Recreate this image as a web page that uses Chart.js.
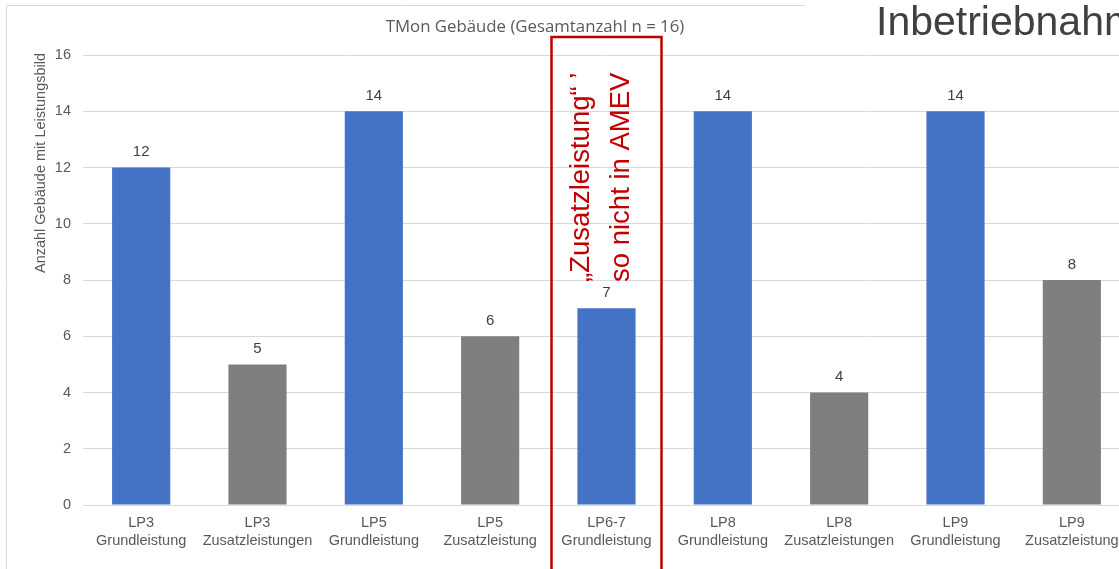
<!DOCTYPE html>
<html lang="de">
<head>
<meta charset="utf-8">
<title>TMon Gebäude</title>
<script src="https://cdn.jsdelivr.net/npm/chart.js@4.4.1/dist/chart.umd.min.js"></script>
<style>
  html, body { margin: 0; padding: 0; background: #fff; overflow: hidden; }
  #wrap { position: relative; width: 1130px; height: 569px; }
</style>
</head>
<body>
<div id="wrap"><canvas id="chart"></canvas></div>
<script>
// Leistungsphasen und Leistungsart je Balken
const phases = ['LP3', 'LP3', 'LP5', 'LP5', 'LP6-7', 'LP8', 'LP8', 'LP9', 'LP9'];
const services = ['Grundleistung', 'Zusatzleistungen', 'Grundleistung', 'Zusatzleistung', 'Grundleistung',
  'Grundleistung', 'Zusatzleistungen', 'Grundleistung', 'Zusatzleistung'];
// Anzahl Gebäude je Leistungsbild
const counts = [12, 5, 14, 6, 7, 14, 4, 14, 8];
const yTicks = [0, 2, 4, 6, 8, 10, 12, 14, 16];

const chartTitle = 'TMon Gebäude (Gesamtanzahl n = 16)';
const yTitle = 'Anzahl Gebäude mit Leistungsbild';
const slideTitle = 'Inbetriebnahme';
const noteLines = ['„Zusatzleistung“ ’', 'so nicht in AMEV'];
const highlighted = 'LP6-7';

const BLUE = '#4472C4';
const GREY = '#7F7F7F';
const TEXT = '#595959';
const GRID = '#D9D9D9';
const RED = '#C00000';
const SANS = '"Liberation Sans", Arial, sans-serif';

const labels = phases.map((p, i) => [p, services[i]]);
const colors = services.map(s => s.startsWith('Grund') ? BLUE : GREY);

// Werte über den Balken, Rahmen, Titel und rote Markierung
const overlay = {
  id: 'overlay',
  afterDatasetsDraw(chart) {
    const ctx = chart.ctx;
    const meta = chart.getDatasetMeta(0);
    ctx.save();
    ctx.font = '15px ' + SANS;
    ctx.fillStyle = '#404040';
    ctx.textAlign = 'center';
    ctx.textBaseline = 'middle';
    meta.data.forEach((bar, i) => {
      ctx.fillText(String(counts[i]), bar.x, bar.y - 15.5);
    });
    ctx.restore();
  },
  afterDraw(chart) {
    const ctx = chart.ctx;
    const x = chart.scales.x;
    ctx.save();

    // Diagrammrahmen (links und oben)
    ctx.strokeStyle = GRID;
    ctx.lineWidth = 1;
    ctx.beginPath();
    ctx.moveTo(6.5, 600);
    ctx.lineTo(6.5, 5.5);
    ctx.lineTo(805, 5.5);
    ctx.stroke();

    // Diagrammtitel
    ctx.font = '16.8px "Open Sans", sans-serif';
    ctx.fillStyle = TEXT;
    ctx.textAlign = 'center';
    ctx.textBaseline = 'alphabetic';
    ctx.fillText(chartTitle, 535, 32);

    // Achsentitel y
    ctx.save();
    ctx.translate(45, 163);
    ctx.rotate(-Math.PI / 2);
    ctx.font = '14.5px ' + SANS;
    ctx.fillStyle = TEXT;
    ctx.textAlign = 'center';
    ctx.fillText(yTitle, 0, 0);
    ctx.restore();

    // Folientitel
    ctx.font = '41px ' + SANS;
    ctx.fillStyle = '#404040';
    ctx.textAlign = 'left';
    ctx.fillText(slideTitle, 876, 35);

    // Rote Markierung um LP6-7
    const idx = phases.indexOf(highlighted);
    const cx = x.getPixelForValue(idx);
    ctx.strokeStyle = RED;
    ctx.lineWidth = 2.5;
    ctx.strokeRect(cx - 55, 37, 110, 560);

    ctx.translate(cx, 282);
    ctx.rotate(-Math.PI / 2);
    ctx.font = '27.5px ' + SANS;
    ctx.fillStyle = RED;
    ctx.textAlign = 'left';
    ctx.fillText(noteLines[0], 0, -18);
    ctx.fillText(noteLines[1], 0, 22);
    ctx.restore();
  }
};

new Chart(document.getElementById('chart'), {
  type: 'bar',
  data: {
    labels: labels,
    datasets: [{
      data: counts,
      backgroundColor: colors,
      borderWidth: 0,
      barPercentage: 0.5,
      categoryPercentage: 1.0
    }]
  },
  options: {
    responsive: true,
    maintainAspectRatio: false,
    animation: false,
    events: [],
    layout: { padding: { left: 27, top: 55, right: 0, bottom: 0 } },
    plugins: {
      legend: { display: false },
      tooltip: { enabled: false },
      title: { display: false }
    },
    scales: {
      x: {
        grid: { display: false, drawTicks: false },
        border: { color: GRID },
        ticks: {
          color: TEXT,
          font: { family: SANS, size: 14.5, lineHeight: 1.25 },
          padding: 9,
          maxRotation: 0,
          autoSkip: false
        },
        afterFit(scale) { scale.height = 64; }
      },
      y: {
        min: 0,
        max: 16,
        afterBuildTicks(scale) { scale.ticks = yTicks.map(v => ({ value: v })); },
        grid: { color: GRID, drawTicks: false },
        border: { display: false },
        ticks: {
          color: TEXT,
          font: { family: SANS, size: 14.5 },
          padding: 12
        },
        afterFit(scale) { scale.width = 56; }
      }
    }
  },
  plugins: [overlay]
});
</script>
</body>
</html>
